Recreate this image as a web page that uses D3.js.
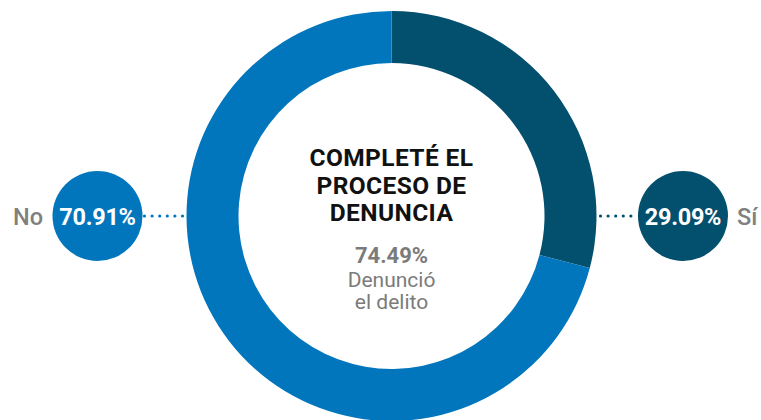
<!DOCTYPE html>
<html>
<head>
<meta charset="utf-8">
<script src="https://cdn.jsdelivr.net/npm/d3@7"></script>
<style>
  html, body { margin: 0; padding: 0; background: #fff; }
  svg { display: block; font-family: Roboto, "Noto Sans", sans-serif; }
</style>
</head>
<body>
<svg id="chart" width="761" height="420"></svg>
<script>
const categories = ["Sí", "No"];
const values = [29.09, 70.91];
const colors = ["#034f6e", "#0176bd"];
const titleLines = ["COMPLETÉ EL", "PROCESO DE", "DENUNCIA"];
const subValue = "74.49%";
const subLines = ["Denunció", "el delito"];

const svg = d3.select("#chart");
const cx = 391.5, cy = 216;
const outerR = 205, innerR = 153;

const pie = d3.pie().sort(null).value(d => d)(values);
const arc = d3.arc().innerRadius(innerR).outerRadius(outerR);
const color = d3.scaleOrdinal().domain(categories).range(colors);

const g = svg.append("g").attr("transform", `translate(${cx},${cy})`);
g.selectAll("path").data(pie).join("path")
  .attr("d", arc)
  .attr("fill", (d, i) => color(categories[i]));

// center text
const title = g.append("text").attr("text-anchor", "middle")
  .attr("font-weight", 700).attr("font-size", 24.5).attr("fill", "#111")
  .attr("letter-spacing", 0.4);
titleLines.forEach((t, i) => {
  title.append("tspan").attr("x", 0).attr("y", -50 + i * 27.5).text(t);
});
g.append("text").attr("text-anchor", "middle").attr("x", 0).attr("y", 47)
  .attr("font-weight", 700).attr("font-size", 22).attr("fill", "#7b7b7b").text(subValue);
const sub = g.append("text").attr("text-anchor", "middle")
  .attr("font-size", 21).attr("fill", "#7b7b7b");
subLines.forEach((t, i) => {
  sub.append("tspan").attr("x", 0).attr("y", 71 + i * 21.5).text(t);
});

// side bubbles
const bubbles = [
  { cat: "No", val: values[1], bx: 97.5, side: -1 },
  { cat: "Sí", val: values[0], bx: 683, side: 1 }
];
const fmt = d => d3.format(".2f")(d) + "%";
bubbles.forEach(b => {
  const c = color(b.cat);
  const x1 = b.side < 0 ? b.bx + 47 : cx + outerR + 4;
  const x2 = b.side < 0 ? cx - outerR - 4 : b.bx - 45;
  svg.append("line").attr("x1", x1).attr("x2", x2).attr("y1", cy).attr("y2", cy)
    .attr("stroke", c).attr("stroke-width", 3.2).attr("stroke-linecap", "round")
    .attr("stroke-dasharray", "0 7.6");
  svg.append("circle").attr("cx", b.bx).attr("cy", cy).attr("r", 45).attr("fill", c);
  svg.append("text").attr("x", b.bx).attr("y", cy + 8.5).attr("text-anchor", "middle")
    .attr("font-weight", 700).attr("font-size", 23.5).attr("fill", "#fff")
    .attr("letter-spacing", -0.3).text(fmt(b.val));
  svg.append("text")
    .attr("x", b.side < 0 ? 13 : 737).attr("y", cy + 8.5)
    .attr("text-anchor", "start")
    .attr("font-weight", 500).attr("font-size", 23.5).attr("fill", "#808080")
    .text(b.cat);
});
</script>
</body>
</html>
